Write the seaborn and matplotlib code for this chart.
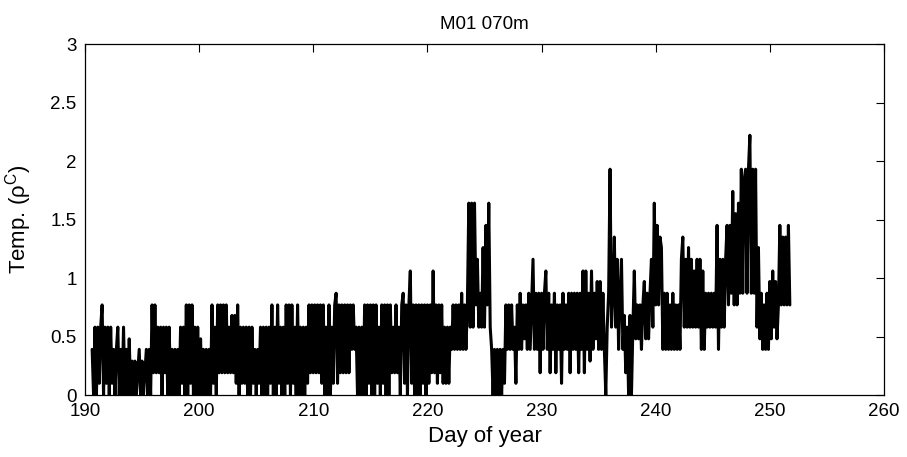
import numpy as np
import pandas as pd
import matplotlib
matplotlib.use("Agg")
import matplotlib.pyplot as plt
import seaborn as sns

# ---- data (temperature, deg C; 8 samples per day) ----
day_start = 190.625
samples_per_day = 8

temp_d190_199 = [
    .39, 0, .58,
    0, .58, .1, .58, .77, 0, .58, .1,
    .58, 0, .58, .1, .39, 0, .39, .58,
    0, .39, 0, .58, 0, .39, 0, .48,
    0, .29, 0, .29, 0, .19, .39, 0,
    .29, 0, .19, .39, 0, .39, 0, .77,
    .19, .77, .19, .58, .19, .58, 0, .58,
    .19, .58, 0, .58, 0, .39, 0, .39,
    0, .39, 0, .58, .1, .58, 0, .77,
    0, .77, .1, .77, 0, .58, 0, .58,
]
temp_d200_209 = [
    0, .48, 0, .39, 0, .39, 0, .39,
    0, .77, .1, .58, 0, .77, .19, .77,
    .19, .77, .19, .77, .19, .58, .19, .68,
    .19, .68, .1, .77, 0, .58, .1, .58,
    .1, .58, 0, .58, 0, .58, .1, .39,
    0, .39, .1, .58, 0, .58, 0, .58,
    0, .58, .1, .77, 0, .58, 0, .77,
    .1, .58, 0, .58, 0, .77, .1, .77,
    0, .77, .1, .58, 0, .77, 0, .58,
    0, .58, 0, .58, .1, .77, .19, .77,
]
temp_d210_219 = [
    .19, .77, .19, .77, .19, .77, .1, .77,
    0, .58, 0, .77, 0, .58, .1, .77,
    .87, .1, .77, .19, .77, .19, .77, .19,
    .77, .19, .77, .39, .77, .39, .58, 0,
    .58, 0, .58, 0, .77, 0, .77, .1,
    .77, 0, .77, 0, .77, .1, .58, 0,
    .77, .1, .77, 0, .77, 0, .77, .19,
    .58, .19, .77, .19, .58, 0, .77, .87,
    .1, .77, 0, .77, 1.06, .1, .77, 0,
    .77, 0, .77, 0, .77, .1, .77, 0,
]
temp_d220_229 = [
    .77, .1, .77, .19, 1.06, .19, .77, .1,
    .77, .19, .77, .1, .58, .1, .58, .1,
    .58, .39, .77, .39, .77, .39, .77, .39,
    .87, .39, .77, .39, .77, 1.64, .58, 1.64,
    .58, 1.64, .77, 1.16, .58, .87, .58, 1.26,
    .58, 1.45, .77, 1.64, .58, .39, 0, .39,
    0, .39, 0, .39, 0, .39, .1, .77,
    .39, .77, .39, .77, .39, .58, .1, .77,
    .39, .87, .39, .77, .48, .77, .39, .87,
    .39, .77, 1.16, .39, .87, .39, .87, .19,
]
temp_d230_239 = [
    .87, .39, .87, 1.06, .39, .87, .19, .77,
    .39, .87, .19, .77, .39, .77, .1, .87,
    .39, .77, .39, .87, .19, .87, .39, .87,
    .39, .87, .19, .87, .39, 1.06, .19, 1.06,
    .39, .87, .29, 1.06, .39, .87, .48, .97,
    .39, .97, .39, .87, .39, 0, .58, .87,
    1.93, .58, .87, 1.35, .58, 1.16, .39, .87,
    1.16, .39, .68, .19, .58, 0, .68, 0,
    .58, 1.06, .48, .77, .48, .77, .39, .77,
    .97, .48, .87, .48, .87, 1.16, .58, 1.64,
]
temp_d240_251 = [
    .77, 1.45, .77, 1.35, 1.26, .39, .87, .39,
    .87, .39, .77, .39, .87, .39, .77, .39,
    .77, .39, 1.16, 1.35, .58, 1.16, .58, 1.26,
    .58, 1.16, .58, 1.06, .58, 1.16, .58, 1.16,
    .39, 1.06, .39, .87, .58, .87, .58, .87,
    .58, .87, .58, 1.45, .39, 1.16, .58, 1.16,
    .58, 1.16, 1.45, .77, 1.45, .87, 1.74, .77,
    1.55, .77, 1.64, .87, 1.93, .87, 1.84, 1.93,
    .87, 1.93, 2.22, .87, 1.93, .87, 1.93, .58,
    1.26, .48, .87, .39, .77, .39, .87, .39,
    .97, .48, 1.06, .58, .97, .48, .77, 1.45,
    .77, 1.35, .77, 1.35, .77, 1.45, .77,
]

x_ticks = [190, 200, 210, 220, 230, 240, 250, 260]
y_ticks = [0, 0.5, 1, 1.5, 2, 2.5, 3]
y_tick_labels = ["0", "0.5", "1", "1.5", "2", "2.5", "3"]
title_text = "M01 070m"
x_label = "Day of year"
y_label = r"Temp. ($\rho^{\mathrm{C}}$)"

temp = np.concatenate([temp_d190_199, temp_d200_209, temp_d210_219,
                       temp_d220_229, temp_d230_239, temp_d240_251])
day = day_start + np.arange(len(temp)) / samples_per_day
df = pd.DataFrame({"day": day, "temp": temp})

# ---- style ----
sns.set_style("white")
plt.rcParams["font.family"] = ["Liberation Sans", "DejaVu Sans"]
plt.rcParams["mathtext.fontset"] = "custom"
plt.rcParams["mathtext.rm"] = "Liberation Sans"
plt.rcParams["mathtext.it"] = "Liberation Sans"
plt.rcParams["mathtext.default"] = "regular"
for key in ["text.color", "axes.labelcolor", "xtick.color", "ytick.color",
            "axes.edgecolor"]:
    plt.rcParams[key] = "black"

fig = plt.figure(figsize=(9.07, 4.57), dpi=100)
ax = fig.add_axes([85 / 907, 1 - 395 / 457, 799 / 907, 351 / 457])

sns.lineplot(data=df, x="day", y="temp", ax=ax, color="black",
             linewidth=2.2, estimator=None, legend=False)

ax.set_xlim(190, 260)
ax.set_ylim(0, 3)
ax.set_xticks(x_ticks)
ax.set_xticklabels([str(v) for v in x_ticks])
ax.set_yticks(y_ticks)
ax.set_yticklabels(y_tick_labels)
ax.tick_params(direction="in", length=6, width=0.8, top=True, right=True,
               labelsize=13.5, pad=6, colors="black")
for s in ax.spines.values():
    s.set_visible(True)
    s.set_color("black")
    s.set_linewidth(0.9)

ax.set_title(title_text, fontsize=13.5, pad=11, color="black")
ax.set_xlabel(x_label, fontsize=16, labelpad=4, color="black")
ax.set_ylabel(y_label, fontsize=16, labelpad=12, color="black")

fig.savefig("out.png", dpi=100, facecolor="white")
